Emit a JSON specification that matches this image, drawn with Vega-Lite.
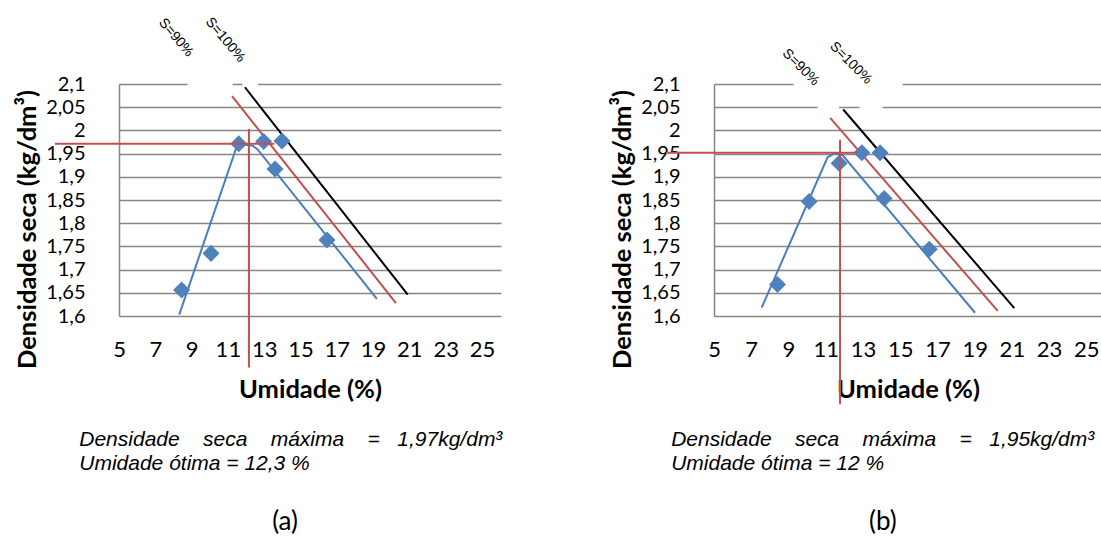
{
  "$schema": "https://vega.github.io/schema/vega-lite/v6.json",
  "background": "white",
  "padding": {"left": 15, "top": 14, "right": 0, "bottom": 0},
  "spacing": 107,
  "config": {
    "view": {"stroke": null},
    "axis": {
      "labelFont": "Lato", "labelFontSize": 22, "labelColor": "#000000",
      "titleFont": "Lato", "titleFontSize": 25.5, "titleFontWeight": "bold", "titleColor": "#000000",
      "ticks": false, "gridColor": "#868686", "gridWidth": 1.5, "domainColor": "#868686", "domainWidth": 1.5
    }
  },
  "datasets": {
    "pa": [{"x": 8.45, "y": 1.656}, {"x": 10.07, "y": 1.735}, {"x": 11.6, "y": 1.971}, {"x": 12.97, "y": 1.976}, {"x": 13.6, "y": 1.917}, {"x": 13.98, "y": 1.977}, {"x": 16.46, "y": 1.764}],
    "ca": [{"x": 8.32, "y": 1.603}, {"x": 11.45, "y": 1.961}, {"x": 11.9, "y": 1.969}, {"x": 12.37, "y": 1.967}, {"x": 12.64, "y": 1.959}, {"x": 19.21, "y": 1.637}],
    "s90a": [{"x": 11.23, "y": 2.074}, {"x": 20.26, "y": 1.628}],
    "s100a": [{"x": 11.94, "y": 2.093}, {"x": 20.91, "y": 1.646}],
    "xa": [{"x": 1.47, "x2": 13.56, "y": 1.971, "y2": 1.971}, {"x": 12.16, "x2": 12.16, "y": 2.003, "y2": 1.489}],
    "ga": [{"x": 8.78, "x2": 11.26, "y": 2.1}, {"x": 11.8, "x2": 12.67, "y": 2.1}],
    "la": [{"x": 8.14, "y": 2.2, "t": "S=90%"}, {"x": 10.85, "y": 2.195, "t": "S=100%"}],
    "ta": [{"x": 2.81, "y": 1.3556}],
    "ca2": [{"x": 14.15, "y": 1.156}],
    "pb": [{"x": 8.41, "y": 1.668}, {"x": 10.11, "y": 1.847}, {"x": 11.72, "y": 1.929}, {"x": 12.94, "y": 1.952}, {"x": 13.92, "y": 1.952}, {"x": 14.14, "y": 1.853}, {"x": 16.56, "y": 1.744}],
    "cb": [{"x": 7.56, "y": 1.618}, {"x": 11.1, "y": 1.942}, {"x": 11.45, "y": 1.95}, {"x": 11.9, "y": 1.947}, {"x": 19.02, "y": 1.607}],
    "s90b": [{"x": 11.24, "y": 2.027}, {"x": 20.24, "y": 1.611}],
    "s100b": [{"x": 11.94, "y": 2.045}, {"x": 21.13, "y": 1.617}],
    "xb": [{"x": 2.4, "x2": 12.71, "y": 1.952, "y2": 1.952}, {"x": 11.77, "x2": 11.77, "y": 1.98, "y2": 1.41}],
    "gb": [{"x": 9.27, "x2": 15.13, "y": 2.1}, {"x": 10.56, "x2": 11.72, "y": 2.05}, {"x": 12.81, "x2": 14.05, "y": 2.05}],
    "lb": [{"x": 9.66, "y": 2.136, "t": "S=90%"}, {"x": 12.35, "y": 2.145, "t": "S=100%"}],
    "tb": [{"x": 2.7, "y": 1.3556}],
    "cb2": [{"x": 14.07, "y": 1.156}]
  },
  "hconcat": [
    {
      "width": 382,
      "height": 232,
      "encoding": {
        "x": {"field": "x", "type": "quantitative", "scale": {"domain": [5, 26.05], "nice": false, "zero": false},
          "axis": {"values": [5, 7, 9, 11, 13, 15, 17, 19, 21, 23, 25], "grid": false, "domain": false, "labelPadding": 23, "labelFlush": false, "labelOverlap": false, "title": "Umidade (%)", "titlePadding": 17}},
        "y": {"field": "y", "type": "quantitative", "scale": {"domain": [1.6, 2.1], "nice": false, "zero": false},
          "axis": {"values": [1.6, 1.65, 1.7, 1.75, 1.8, 1.85, 1.9, 1.95, 2, 2.05, 2.1], "grid": true, "domain": true, "labelFontSize": 20, "labelPadding": 34, "labelFlush": false, "labelOverlap": false, "labelExpr": "replace(format(datum.value,'.2~f'),'.',',')", "title": "Densidade seca (kg/dm³)", "titlePadding": 5, "titleY": 145}}
      },
      "layer": [
        {"data": {"name": "ga"}, "mark": {"type": "rule", "stroke": "white", "strokeWidth": 4}, "encoding": {"x2": {"field": "x2"}}},
        {"data": {"name": "s90a"}, "mark": {"type": "line", "stroke": "#c0504d", "strokeWidth": 2}},
        {"data": {"name": "s100a"}, "mark": {"type": "line", "stroke": "#000000", "strokeWidth": 2}},
        {"data": {"name": "ca"}, "mark": {"type": "line", "stroke": "#4a7ebb", "strokeWidth": 2}},
        {"data": {"name": "pa"}, "mark": {"type": "point", "shape": "diamond", "filled": true, "fill": "#4f81bd", "size": 290, "opacity": 1, "strokeWidth": 0}},
        {"data": {"name": "xa"}, "mark": {"type": "rule", "stroke": "#c0504d", "strokeWidth": 2}, "encoding": {"x2": {"field": "x2"}, "y2": {"field": "y2"}}},
        {"data": {"name": "la"}, "mark": {"type": "text", "angle": 50, "font": "Liberation Sans", "fontSize": 14, "fill": "#000000", "align": "center", "baseline": "middle"}, "encoding": {"text": {"field": "t"}}},
        {"data": {"name": "ta"}, "mark": {"type": "text", "text": ["Densidade\u00a0\u00a0\u00a0\u00a0seca\u00a0\u00a0\u00a0\u00a0máxima\u00a0\u00a0\u00a0\u00a0=\u00a0\u00a0\u00a01,97kg/dm³", "Umidade ótima = 12,3 %"], "font": "Liberation Sans", "fontStyle": "italic", "fontSize": 21, "lineHeight": 24, "align": "left", "baseline": "top", "fill": "#000000"}},
        {"data": {"name": "ca2"}, "mark": {"type": "text", "text": "(a)", "font": "Lato", "fontSize": 26, "align": "center", "baseline": "middle", "fill": "#000000"}}
      ]
    },
    {
      "width": 388,
      "height": 232,
      "encoding": {
        "x": {"field": "x", "type": "quantitative", "scale": {"domain": [5, 25.84], "nice": false, "zero": false},
          "axis": {"values": [5, 7, 9, 11, 13, 15, 17, 19, 21, 23, 25], "grid": false, "domain": false, "labelPadding": 23, "labelFlush": false, "labelOverlap": false, "title": "Umidade (%)", "titlePadding": 17}},
        "y": {"field": "y", "type": "quantitative", "scale": {"domain": [1.6, 2.1], "nice": false, "zero": false},
          "axis": {"values": [1.6, 1.65, 1.7, 1.75, 1.8, 1.85, 1.9, 1.95, 2, 2.05, 2.1], "grid": true, "domain": true, "labelFontSize": 20, "labelPadding": 34, "labelFlush": false, "labelOverlap": false, "labelExpr": "replace(format(datum.value,'.2~f'),'.',',')", "title": "Densidade seca (kg/dm³)", "titlePadding": 5, "titleY": 145}}
      },
      "layer": [
        {"data": {"name": "gb"}, "mark": {"type": "rule", "stroke": "white", "strokeWidth": 4}, "encoding": {"x2": {"field": "x2"}}},
        {"data": {"name": "s90b"}, "mark": {"type": "line", "stroke": "#c0504d", "strokeWidth": 2}},
        {"data": {"name": "s100b"}, "mark": {"type": "line", "stroke": "#000000", "strokeWidth": 2}},
        {"data": {"name": "cb"}, "mark": {"type": "line", "stroke": "#4a7ebb", "strokeWidth": 2}},
        {"data": {"name": "pb"}, "mark": {"type": "point", "shape": "diamond", "filled": true, "fill": "#4f81bd", "size": 290, "opacity": 1, "strokeWidth": 0}},
        {"data": {"name": "xb"}, "mark": {"type": "rule", "stroke": "#c0504d", "strokeWidth": 2}, "encoding": {"x2": {"field": "x2"}, "y2": {"field": "y2"}}},
        {"data": {"name": "lb"}, "mark": {"type": "text", "angle": 45, "font": "Liberation Sans", "fontSize": 14, "fill": "#000000", "align": "center", "baseline": "middle"}, "encoding": {"text": {"field": "t"}}},
        {"data": {"name": "tb"}, "mark": {"type": "text", "text": ["Densidade\u00a0\u00a0\u00a0\u00a0seca\u00a0\u00a0\u00a0\u00a0máxima\u00a0\u00a0\u00a0\u00a0=\u00a0\u00a0\u00a01,95kg/dm³", "Umidade ótima = 12 %"], "font": "Liberation Sans", "fontStyle": "italic", "fontSize": 21, "lineHeight": 24, "align": "left", "baseline": "top", "fill": "#000000"}},
        {"data": {"name": "cb2"}, "mark": {"type": "text", "text": "(b)", "font": "Lato", "fontSize": 26, "align": "center", "baseline": "middle", "fill": "#000000"}}
      ]
    }
  ]
}
